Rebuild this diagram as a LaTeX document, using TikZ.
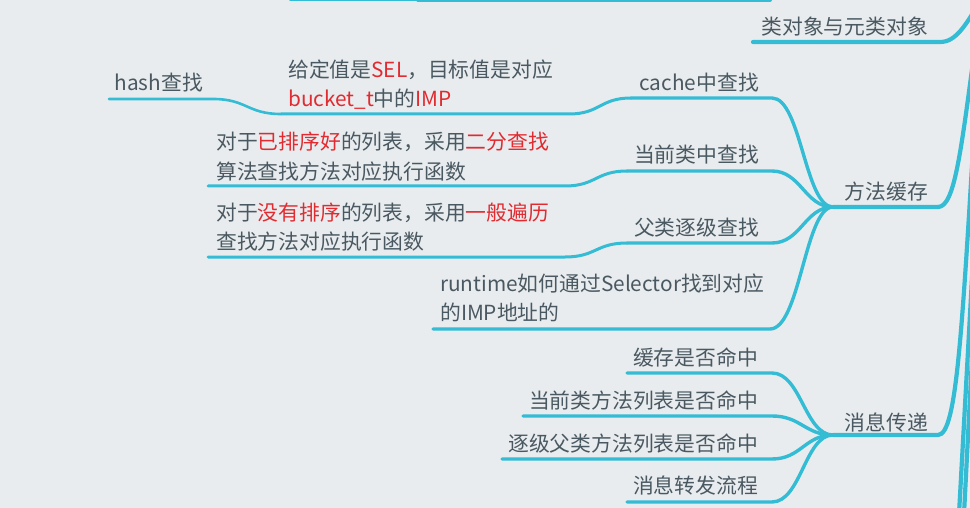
\documentclass[tikz,border=0pt]{standalone}
\usepackage{fontspec}
\setmainfont{Noto Sans CJK SC}
\definecolor{bg}{HTML}{E8ECEF}
\definecolor{ln}{HTML}{33BCD4}
\definecolor{tx}{HTML}{4A5961}
\definecolor{rd}{HTML}{E12B30}
\newcommand{\hlr}[1]{\textcolor{rd}{#1}}
\tikzset{
  txt/.style={text=tx, inner sep=0pt, font=\fontsize{20.8}{29}\selectfont},
  eroot/.style={draw=ln, line width=4.2pt, line cap=round},
  eone/.style={draw=ln, line width=4pt, line cap=round},
  etwo/.style={draw=ln, line width=3.4pt, line cap=round},
  ethree/.style={draw=ln, line width=3pt, line cap=round},
  efour/.style={draw=ln, line width=2.6pt, line cap=round},
}
\begin{document}
\begin{tikzpicture}[x=1pt,y=-1pt]
\useasboundingbox (0,0) rectangle (970,508);
\fill[bg] (0,0) rectangle (970,508);
\clip (0,0) rectangle (970,508);

% root side coordinates (off picture)
\coordinate (rootA) at (985,-8);
\coordinate (rootB) at (976,40);
\coordinate (rootC) at (976,100);
\coordinate (rootD) at (973,260);
\coordinate (rootE) at (975,300);
\coordinate (botA) at (959,514);
\coordinate (botB) at (964,514);
% top nodes (cut off)
\coordinate (topAL) at (290,-0.6);
\coordinate (topAR) at (418,-0.6);
\coordinate (topBL) at (418,0);
\coordinate (topBR) at (770,0);

% underline ends
\coordinate (kdxL) at (753,42);   \coordinate (kdxR) at (940,42);
\coordinate (ffhcL) at (833,207); \coordinate (ffhcR) at (938,207);
\coordinate (xxcdL) at (833,435); \coordinate (xxcdR) at (938,435);
\coordinate (cacheL) at (631,98); \coordinate (cacheR) at (772,98);
\coordinate (dqL) at (627,171);   \coordinate (dqR) at (772,171);
\coordinate (flL) at (627,243);   \coordinate (flR) at (772,243);
\coordinate (rtL) at (433,329);   \coordinate (rtR) at (770,329);
\coordinate (gdL) at (281,114);   \coordinate (gdR) at (569,114);
\coordinate (hashL) at (109,99);  \coordinate (hashR) at (213,99);
\coordinate (pxL) at (208,186);   \coordinate (pxR) at (565,186);
\coordinate (mpL) at (208,257);   \coordinate (mpR) at (565,257);
\coordinate (maL) at (627,373);   \coordinate (maR) at (772,373);
\coordinate (mbL) at (523,416);   \coordinate (mbR) at (772,416);
\coordinate (mcL) at (502,459);   \coordinate (mcR) at (772,459);
\coordinate (mdL) at (627,502);   \coordinate (mdR) at (772,502);

% connectors
\draw[ethree] (topAL) -- (topAR);
\draw[eone] (topBL) -- (topBR);
\draw[eroot] (kdxL) -- (kdxR) .. controls (956,42) and (966,26) .. (rootA);
\draw[eroot] (ffhcL) -- (ffhcR) .. controls (955,207) and (961,150) .. (rootB);
\draw[eroot] (xxcdL) -- (xxcdR) .. controls (957,435) and (962,330) .. (rootC);
\draw[eroot] (botA) -- (rootD);
\draw[eroot] (botB) -- (rootE);

\draw[etwo] (cacheL) -- (cacheR) .. controls (801,98) and (805,207) .. (ffhcL);
\draw[etwo] (dqL) -- (dqR) .. controls (801,171) and (805,207) .. (ffhcL);
\draw[etwo] (flL) -- (flR) .. controls (801,243) and (805,207) .. (ffhcL);
\draw[etwo] (rtL) -- (rtR) .. controls (800,329) and (805,207) .. (ffhcL);

\draw[etwo] (maL) -- (maR) .. controls (801,373) and (805,435) .. (xxcdL);
\draw[etwo] (mbL) -- (mbR) .. controls (801,416) and (805,435) .. (xxcdL);
\draw[etwo] (mcL) -- (mcR) .. controls (801,459) and (805,435) .. (xxcdL);
\draw[etwo] (mdL) -- (mdR) .. controls (801,502) and (805,435) .. (xxcdL);

\draw[ethree] (gdL) -- (gdR) .. controls (600,114) and (600,98) .. (cacheL);
\draw[ethree] (pxL) -- (pxR) .. controls (596,186) and (596,171) .. (dqL);
\draw[ethree] (mpL) -- (mpR) .. controls (596,257) and (596,243) .. (flL);
\draw[efour] (hashL) -- (hashR) .. controls (247,99) and (247,114) .. (gdL);

% texts
\node[txt, anchor=base east] (kdx) at (928,35) {类对象与元类对象};
\node[txt, anchor=base east] (ffhc) at (928,200) {方法缓存};
\node[txt, anchor=base east] (xxcd) at (928,430) {消息传递};
\node[txt, anchor=base east] (cache) at (759,91) {cache中查找};
\node[txt, anchor=base east] (dq) at (759,163) {当前类中查找};
\node[txt, anchor=base east] (fl) at (759,235) {父类逐级查找};
\node[txt, anchor=base west] (rt) at (440,291) {\begin{tabular}[t]{@{}l@{}}runtime如何通过Selector找到对应\\的IMP地址的\end{tabular}};
\node[txt, anchor=base west] (gd) at (288,78) {\begin{tabular}[t]{@{}l@{}}给定值是\hlr{SEL}，目标值是对应\\\hlr{bucket\_t}中的\hlr{IMP}\end{tabular}};
\node[txt, anchor=base east] (hash) at (203,91) {hash查找};
\node[txt, anchor=base west] (px) at (216,150) {\begin{tabular}[t]{@{}l@{}}对于\hlr{已排序好}的列表，采用\hlr{二分查找}\\算法查找方法对应执行函数\end{tabular}};
\node[txt, anchor=base west] (mp) at (216,221) {\begin{tabular}[t]{@{}l@{}}对于\hlr{没有排序}的列表，采用\hlr{一般遍历}\\查找方法对应执行函数\end{tabular}};
\node[txt, anchor=base east] (ma) at (758,365) {缓存是否命中};
\node[txt, anchor=base east] (mb) at (758,408) {当前类方法列表是否命中};
\node[txt, anchor=base east] (mc) at (758,451) {逐级父类方法列表是否命中};
\node[txt, anchor=base east] (md) at (758,493) {消息转发流程};
\end{tikzpicture}
\end{document}
